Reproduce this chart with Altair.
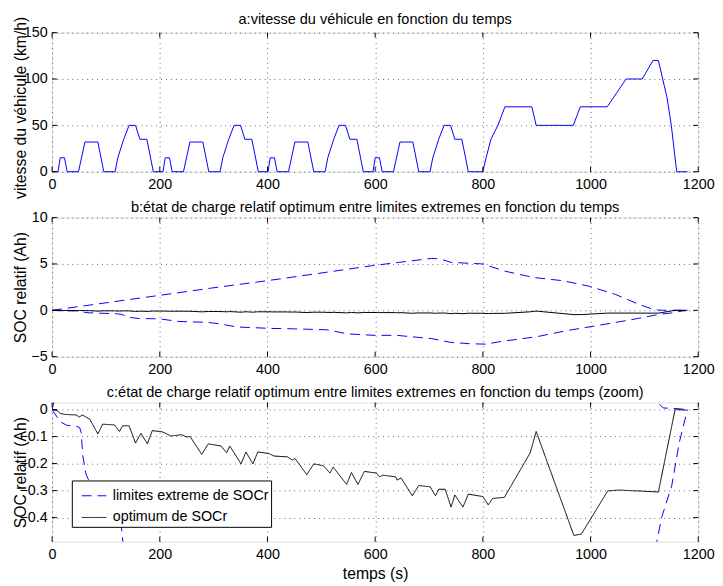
import altair as alt
import pandas as pd

# ---------------- data ----------------
# a: vehicle speed (km/h) vs time (s)
t_vitesse = [0, 11, 15, 23, 28, 49, 61, 85, 96, 117, 122, 133, 143, 155, 163, 176, 188,
             206, 210, 218, 223, 244, 256, 280, 291, 312, 317, 328, 338, 350, 358, 371, 383,
             401, 405, 413, 418, 439, 451, 475, 486, 507, 512, 523, 533, 545, 553, 566, 578,
             596, 600, 608, 613, 634, 646, 670, 681, 702, 707, 718, 728, 740, 748, 761, 773,
             800, 806, 815, 828, 841, 891, 899, 968, 981, 1031, 1066, 1096, 1116, 1126,
             1142, 1150, 1160, 1180]
v_vitesse = [0, 0, 15, 15, 0, 0, 32, 32, 0, 0, 15, 35, 50, 50, 35, 35, 0,
             0, 15, 15, 0, 0, 32, 32, 0, 0, 15, 35, 50, 50, 35, 35, 0,
             0, 15, 15, 0, 0, 32, 32, 0, 0, 15, 35, 50, 50, 35, 35, 0,
             0, 15, 15, 0, 0, 32, 32, 0, 0, 15, 35, 50, 50, 35, 35, 0,
             0, 15, 35, 50, 70, 70, 50, 50, 70, 70, 100, 100, 120, 120,
             80, 50, 0, 0]

# optimum SOCr (Ah)
t_opt = [0, 9, 15, 24, 45, 51, 55, 60, 70, 85, 94, 116, 125, 131, 143, 155, 165, 177, 186, 204,
         213, 220, 241, 250, 256, 278, 290, 314, 324, 330, 351, 360, 373, 382, 403, 412, 437, 446,
         451, 473, 486, 504, 516, 522, 547, 556, 568, 580, 602, 608, 614, 638, 641, 648, 669, 681,
         702, 712, 718, 730, 741, 748, 763, 773, 800, 810, 818, 840, 888, 899, 969, 983, 1032,
         1053, 1126, 1157, 1178]
v_opt = [0, -0.004, -0.014, -0.018, -0.020, -0.028, -0.020, -0.024, -0.036, -0.090,
         -0.054, -0.057, -0.081, -0.060, -0.060, -0.124, -0.088, -0.127, -0.078, -0.082,
         -0.090, -0.098, -0.093, -0.102, -0.099, -0.166, -0.127, -0.135, -0.160, -0.135,
         -0.201, -0.157, -0.201, -0.157, -0.163, -0.172, -0.175, -0.187, -0.181, -0.241,
         -0.201, -0.208, -0.235, -0.213, -0.277, -0.233, -0.277, -0.229, -0.235, -0.249,
         -0.243, -0.249, -0.261, -0.253, -0.319, -0.281, -0.286, -0.319, -0.295, -0.295,
         -0.361, -0.316, -0.361, -0.313, -0.322, -0.353, -0.329, -0.325, -0.160, -0.081,
         -0.466, -0.461, -0.301, -0.298, -0.305, 0.0, -0.002]

# extreme limits of SOCr (Ah)
t_sup = [0, 100, 198, 296, 399, 497, 595, 644, 705, 720, 741, 800, 839, 894, 949, 998, 1047,
         1090, 1114, 1125, 1135, 1157, 1180]
v_sup = [0, 0.81, 1.6, 2.4, 3.19, 4.0, 4.82, 5.17, 5.6, 5.55, 5.17, 5.0, 4.25, 3.54, 3.19, 2.59,
         1.7, 0.64, 0.15, 0.026, 0.006, 0.004, 0]
t_inf = [0, 10, 15, 27, 45, 51, 54, 57, 63, 70, 100, 120, 128, 132, 143, 160, 200, 234, 289, 310,
         344, 406, 450, 510, 550, 600, 640, 705, 740, 775, 805, 835, 900, 955, 1010, 1071, 1123,
         1132, 1151, 1165, 1180]
v_inf = [0, -0.03, -0.045, -0.058, -0.062, -0.066, -0.085, -0.17, -0.24, -0.27, -0.33, -0.38,
         -0.42, -0.5, -0.75, -0.88, -0.92, -1.2, -1.3, -1.45, -1.8, -1.95, -2.0, -2.1, -2.55,
         -2.7, -2.7, -3.05, -3.45, -3.6, -3.65, -3.35, -2.85, -2.2, -1.67, -1.06, -0.49, -0.40,
         -0.28, -0.12, 0]

X_TICKS = [0, 200, 400, 600, 800, 1000, 1200]
Y_TICKS_A = [0, 50, 100, 150]
Y_TICKS_B = [-5, 0, 5, 10]
Y_TICKS_C = [-0.4, -0.3, -0.2, -0.1, 0]

LIM = "limites extreme de SOCr"
OPT = "optimum de SOCr"

# ---------------- style ----------------
FONT = "Liberation Sans"
W, H = 655, 141
FS = 14.5      # tick labels, legend
TFS = 14.7     # panel titles
AFS = 16       # axis titles
DASH = [10, 6]

title_kw = dict(fontSize=TFS, font=FONT, fontWeight="normal", color="black", anchor="middle")


def x_axis(title=None):
    kw = dict(values=X_TICKS, format="d", grid=True, ticks=False, domain=False,
              labelFontSize=FS, labelFont=FONT, labelColor="black", labelPadding=6.5,
              labelFlush=False, labelOverlap=False,
              gridColor="black", gridDash=[1, 4], gridOpacity=0.6)
    if title:
        kw.update(title=title, titleFontSize=AFS, titleFont=FONT, titleFontWeight="normal",
                  titleColor="black", titlePadding=4.3)
    else:
        kw.update(title=None)
    return alt.Axis(**kw)


def y_axis(values, title, ty=H / 2, expr=None):
    kw = dict(values=values, grid=True, ticks=False, domain=False,
              labelFontSize=FS, labelFont=FONT, labelColor="black", labelPadding=5,
              labelFlush=False, labelOverlap=False,
              gridColor="black", gridDash=[1, 4], gridOpacity=0.6,
              title=title, titleFontSize=AFS, titleFont=FONT, titleFontWeight="normal",
              titleColor="black", titleAngle=270, titleX=-32, titleY=ty,
              titleAlign="center", titleBaseline="middle")
    if expr:
        kw["labelExpr"] = expr
    return alt.Axis(**kw)


xsc = alt.Scale(domain=[0, 1200], nice=False, zero=False)


def tick_layers(x_enc, y_enc, y_values):
    xt = alt.Chart(pd.DataFrame({"t": X_TICKS}))
    yt = alt.Chart(pd.DataFrame({"v": y_values}))
    return [
        xt.mark_rule(color="black", strokeWidth=1).encode(x=x_enc, y=alt.value(H), y2=alt.value(H - 5)),
        xt.mark_rule(color="black", strokeWidth=1).encode(x=x_enc, y=alt.value(0), y2=alt.value(5)),
        yt.mark_rule(color="black", strokeWidth=1).encode(y=y_enc, x=alt.value(0), x2=alt.value(5)),
        yt.mark_rule(color="black", strokeWidth=1).encode(y=y_enc, x=alt.value(W), x2=alt.value(W - 5)),
    ]


# ---------------- panel a ----------------
df_a = pd.DataFrame({"t": t_vitesse, "v": v_vitesse})
xa = alt.X("t:Q", scale=xsc, axis=x_axis())
ya = alt.Y("v:Q", scale=alt.Scale(domain=[0, 150], nice=False, zero=False),
           axis=y_axis(Y_TICKS_A, "vitesse du véhicule (km/h)", ty=75.7))
line_a = alt.Chart(df_a).mark_line(color="#0000ff", strokeWidth=1).encode(x=xa, y=ya)
pa = alt.layer(line_a, *tick_layers(xa, ya, Y_TICKS_A)).properties(
    width=W, height=H,
    title=alt.TitleParams("a:vitesse du véhicule en fonction du temps", offset=-11.2, **title_kw))

# ---------------- panel b ----------------
df_lim = pd.concat([
    pd.DataFrame({"t": t_sup, "v": v_sup, "part": "sup", "serie": LIM}),
    pd.DataFrame({"t": t_inf, "v": v_inf, "part": "inf", "serie": LIM}),
], ignore_index=True)
df_opt = pd.DataFrame({"t": t_opt, "v": v_opt, "part": "opt", "serie": OPT})

xb = alt.X("t:Q", scale=xsc, axis=x_axis())
yb = alt.Y("v:Q", scale=alt.Scale(domain=[-5, 10], nice=False, zero=False),
           axis=y_axis(Y_TICKS_B, "SOC relatif (Ah)",
                       expr="datum.value == 0 ? '0' : format(datum.value, 'd')"))
lim_b = alt.Chart(df_lim).mark_line(color="#0000ff", strokeWidth=1, strokeDash=DASH).encode(
    x=xb, y=yb, detail="part:N")
opt_b = alt.Chart(df_opt).mark_line(color="black", strokeWidth=1).encode(x=xb, y=yb)
pb = alt.layer(lim_b, opt_b, *tick_layers(xb, yb, Y_TICKS_B)).properties(
    width=W, height=H,
    title=alt.TitleParams(
        "b:état de charge relatif optimum entre limites extremes en fonction du temps",
        offset=-4.9, **title_kw))

# ---------------- panel c ----------------
df_c = pd.concat([df_lim, df_opt], ignore_index=True)
xc = alt.X("t:Q", scale=xsc, axis=x_axis("temps (s)"))
yc = alt.Y("v:Q", scale=alt.Scale(domain=[-0.489, 0.026], nice=False, zero=False),
           axis=y_axis(Y_TICKS_C, "SOC relatif (Ah)",
                       expr="datum.value == 0 ? '0' : format(datum.value, '.1f')"))
leg = alt.Legend(title=None, orient="none", legendX=20, legendY=454, direction="vertical",
                 fillColor="white", strokeColor="black", padding=2.5, symbolOffset=7,
                 symbolType="stroke", symbolSize=625, symbolStrokeWidth=1,
                 labelFontSize=FS, labelFont=FONT, labelColor="black", labelOffset=6,
                 labelExpr="datum.label + '\u00a0\u00a0'",
                 rowPadding=2, cornerRadius=0)
line_c = alt.Chart(df_c).mark_line(clip=True, strokeWidth=1).encode(
    x=xc, y=yc,
    color=alt.Color("serie:N", scale=alt.Scale(domain=[LIM, OPT], range=["#0000ff", "#000000"]),
                    legend=leg),
    strokeDash=alt.StrokeDash("serie:N", scale=alt.Scale(domain=[LIM, OPT], range=[DASH, [1, 0]]),
                              legend=leg),
    detail="part:N")
pc = alt.layer(line_c, *tick_layers(xc, yc, Y_TICKS_C)).properties(
    width=W, height=H,
    title=alt.TitleParams(
        "c:état de charge relatif optimum entre limites extremes en fonction du temps (zoom)",
        offset=2.45, **title_kw))

chart = alt.vconcat(pa, pb, pc, spacing=46.5, bounds="flush").properties(
    padding={"left": 3.7, "top": 0, "right": 0, "bottom": 0}
).configure_view(stroke="black", strokeWidth=1).configure(font=FONT)

chart.save("out.html", embed_options={"renderer": "svg", "actions": False})
